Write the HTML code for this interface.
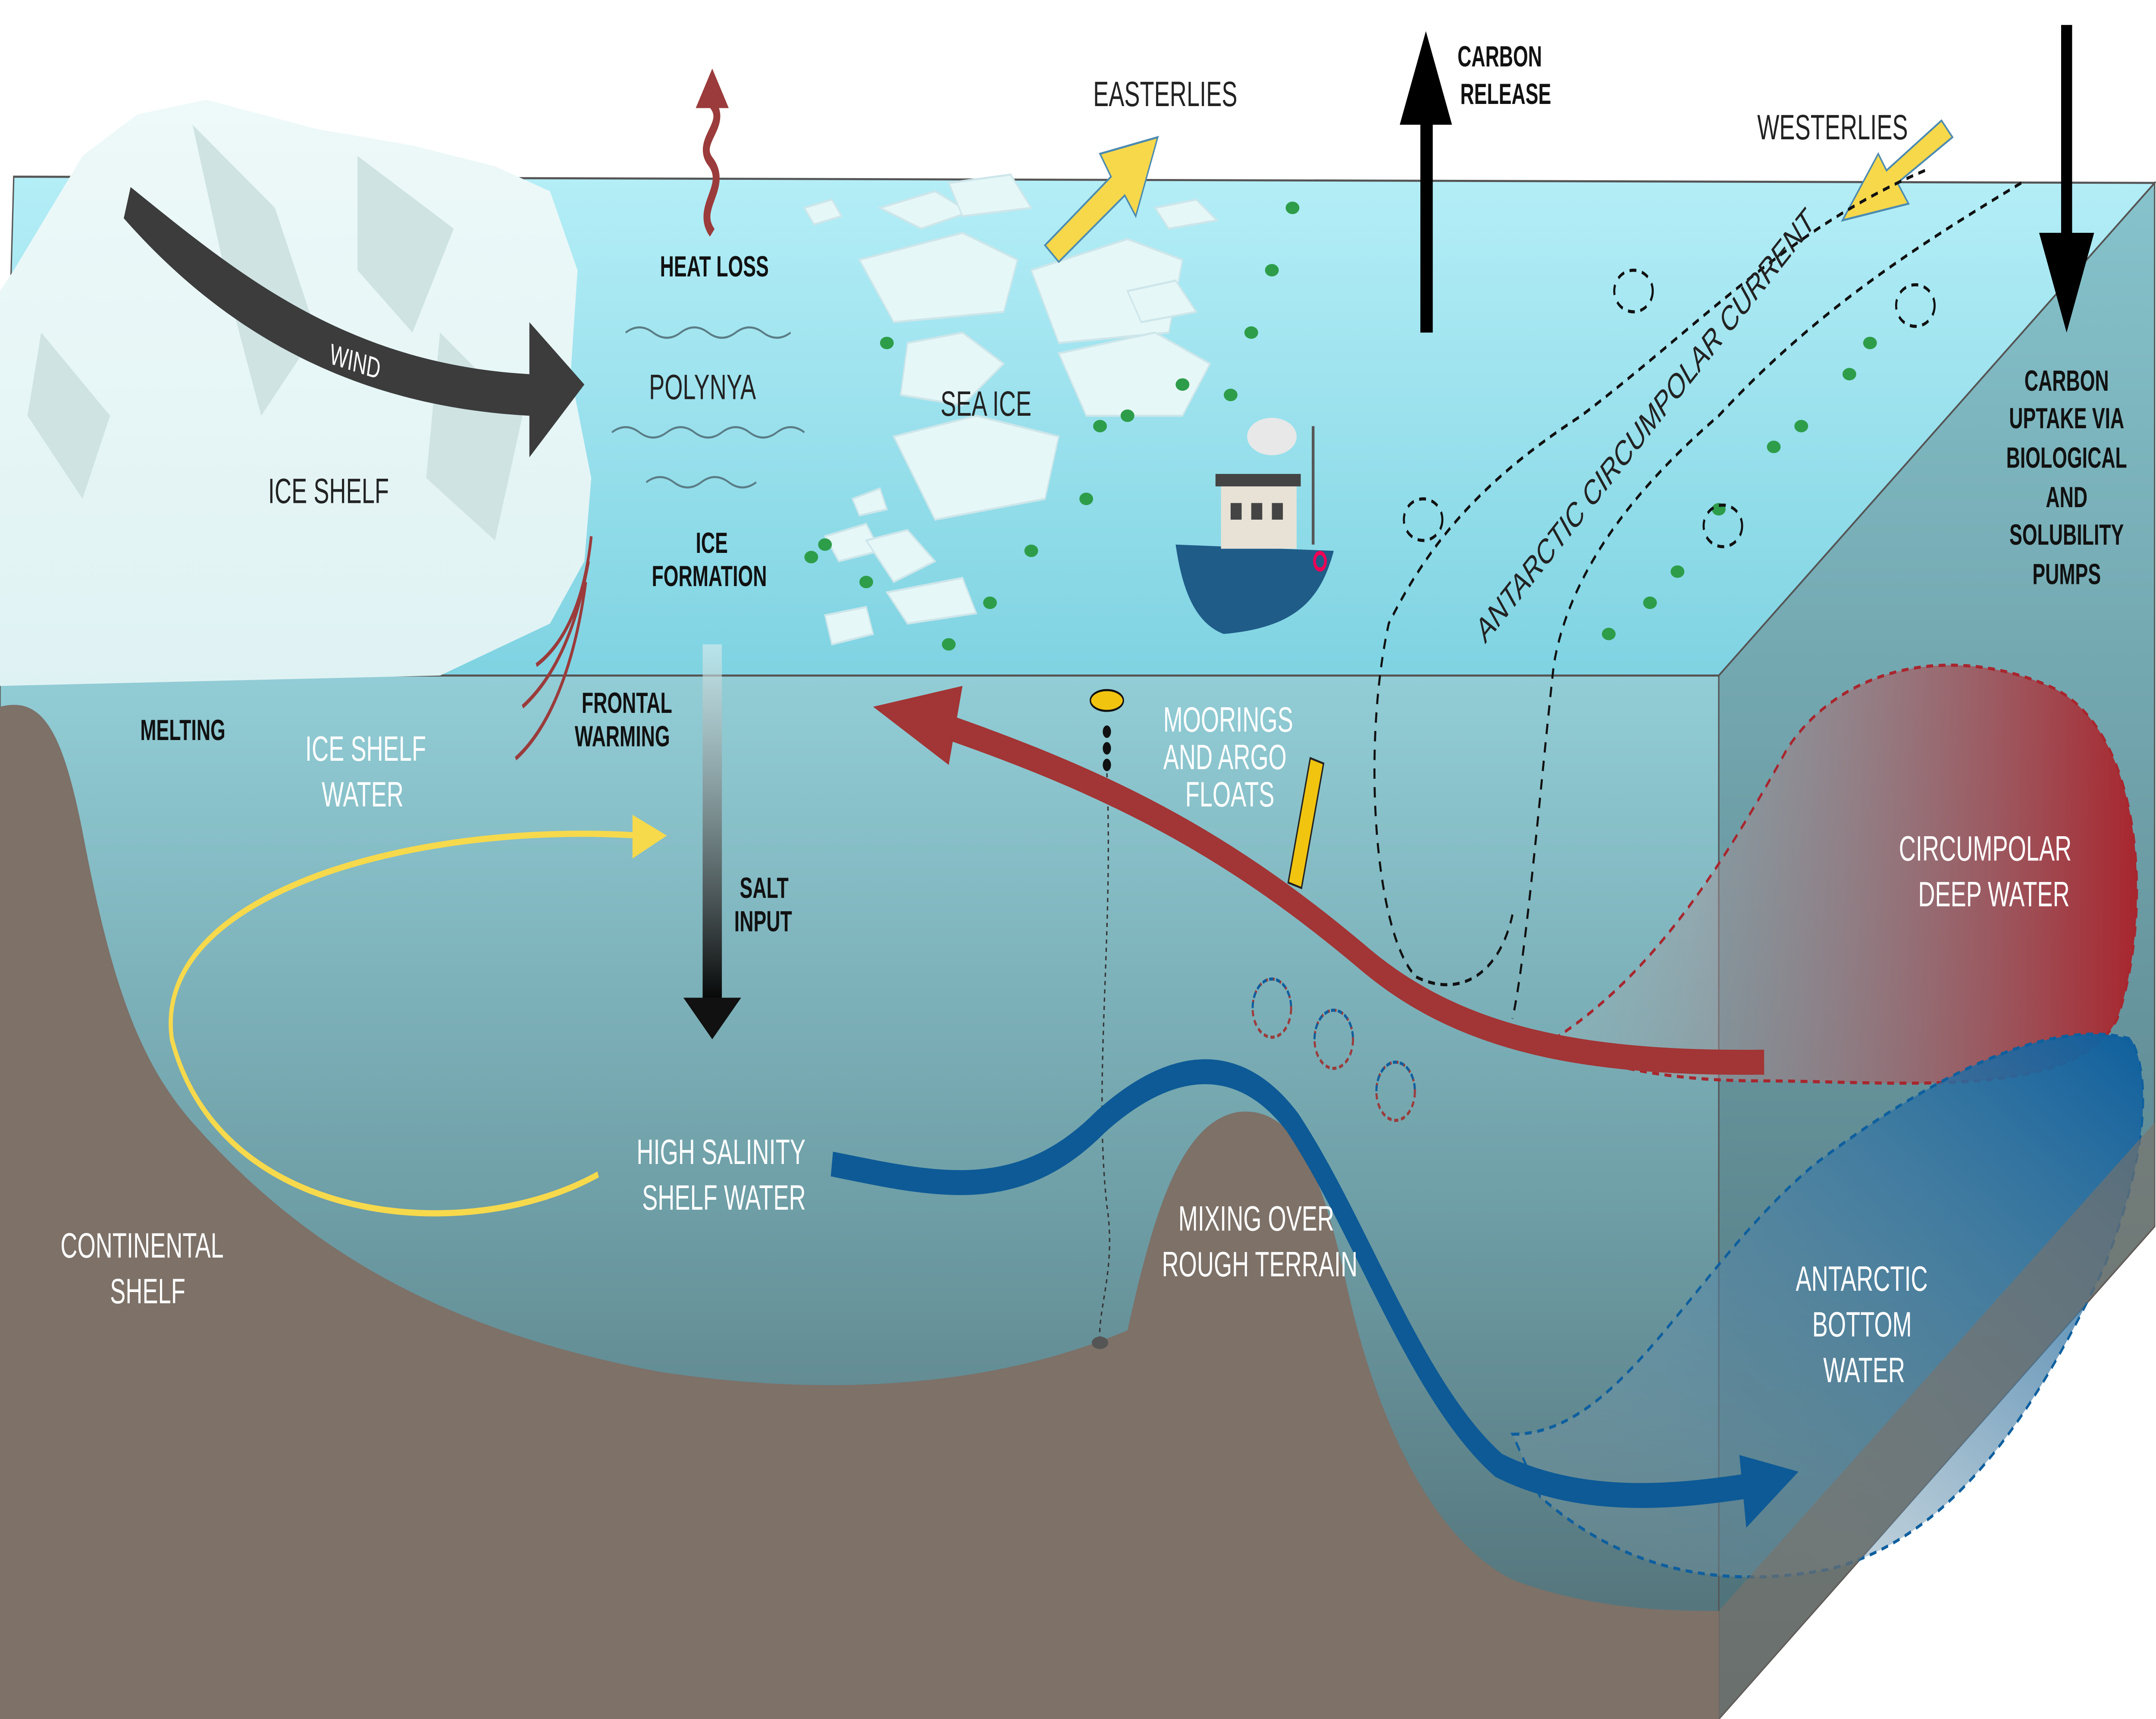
<!DOCTYPE html>
<html><head><meta charset="utf-8"><style>
html,body{margin:0;padding:0;background:#fff;width:100%;height:100%;overflow:hidden;}
svg{display:block;width:100vw;height:100vh;position:absolute;left:0;top:0;}
text{font-family:"Liberation Sans",sans-serif;}
.l{fill:#fff;font-size:17px;}
.b{font-weight:bold;font-size:14px;fill:#111;}
.d{fill:#222;font-size:17px;}
</style></head><body>
<svg viewBox="0 0 1568 827" preserveAspectRatio="none" xmlns="http://www.w3.org/2000/svg">
<defs>
<linearGradient id="surf" x1="0" y1="0" x2="0" y2="1"><stop offset="0" stop-color="#b4eef7"/><stop offset="1" stop-color="#7fd3e2"/></linearGradient>
<linearGradient id="water" x1="0" y1="0" x2="0" y2="1"><stop offset="0" stop-color="#92cdd6"/><stop offset="0.5" stop-color="#6f9fa7"/><stop offset="1" stop-color="#4f6b72"/></linearGradient>
<linearGradient id="side" x1="0" y1="0" x2="0" y2="1"><stop offset="0" stop-color="#86c3cc"/><stop offset="1" stop-color="#4c6d75"/></linearGradient>
<linearGradient id="cdw" x1="0" y1="0" x2="1" y2="0"><stop offset="0" stop-color="#9fb9bd" stop-opacity="0.3"/><stop offset="1" stop-color="#a8262e"/></linearGradient>
<linearGradient id="aabw" x1="0" y1="1" x2="1" y2="0"><stop offset="0" stop-color="#8fa8b0" stop-opacity="0.2"/><stop offset="1" stop-color="#0e5f9e"/></linearGradient>
<linearGradient id="salt" x1="0" y1="0" x2="0" y2="1"><stop offset="0" stop-color="#ddeef0" stop-opacity="0.6"/><stop offset="1" stop-color="#000"/></linearGradient>
<linearGradient id="ice" x1="0" y1="0" x2="0" y2="1"><stop offset="0" stop-color="#eef9f9"/><stop offset="1" stop-color="#dff2f3"/></linearGradient>
</defs>
<rect width="1568" height="827" fill="#fff"/>
<polygon points="1250,325 1567,88 1567,590 1250,827" fill="url(#side)" stroke="#555" stroke-width="1"/>
<polygon points="10,85 1567,88 1250,325 0,325" fill="url(#surf)" stroke="#555" stroke-width="1"/>
<rect x="0" y="325" width="1250" height="501" fill="url(#water)" stroke="#555" stroke-width="1"/>
<path d="M1130,500 C1200,470 1250,420 1300,360 C1340,320 1420,310 1490,330 C1560,350 1566,440 1540,490 C1510,530 1380,520 1280,520 C1200,520 1150,510 1130,500Z" fill="url(#cdw)" stroke="#a8262e" stroke-width="1.5" stroke-dasharray="5,4"/>
<path d="M1100,690 C1180,690 1230,610 1320,560 C1420,510 1500,490 1550,500 C1566,520 1560,560 1530,610 C1480,680 1420,740 1330,755 C1250,765 1180,755 1120,720Z" fill="url(#aabw)" stroke="#0e5f9e" stroke-width="1.5" stroke-dasharray="5,4"/>
<path d="M0,340 C30,335 45,350 60,400 C80,470 100,510 140,540 C220,600 320,640 480,660 C600,672 720,668 820,640 C840,580 860,540 900,535 C940,532 960,560 980,620 C1000,680 1040,740 1100,760 C1160,775 1220,775 1250,775 L1250,827 L0,827Z" fill="#7d7168"/>
<polygon points="1250,775 1567,540 1567,590 1250,827" fill="#7d7168" opacity="0.6"/>
<path d="M10,130 L60,75 L100,55 L150,48 L230,62 L300,70 L360,80 L400,92 L420,130 L415,180 L430,230 L425,270 L400,300 L320,325 L0,330 L0,140Z" fill="url(#ice)"/>
<path d="M140,60 L200,100 L230,160 L190,200 L170,150Z M260,75 L330,110 L300,160 L260,130Z M30,160 L80,200 L60,240 L20,200Z M320,160 L380,200 L360,260 L310,230Z" fill="#cfe3e3"/>
<path d="M95,90 C170,130 250,175 385,180 L385,155 L425,185 L385,220 L385,200 C240,195 150,150 90,105Z" fill="#3c3c3c"/>
<text x="240" y="178" fill="#fff" font-size="14" transform="rotate(12 255 172)">WIND</text>
<text x="195" y="242" class="d">ICE SHELF</text>
<text x="102" y="356" class="b">MELTING</text>
<text x="222" y="366" class="l">ICE SHELF</text><text x="234" y="388" class="l">WATER</text>
<path d="M518,112 C505,100 530,90 517,78 C505,68 530,60 518,50" fill="none" stroke="#9b3b3b" stroke-width="5"/>
<polygon points="506,52 518,33 530,52" fill="#9b3b3b"/>
<text x="480" y="133" class="b">HEAT LOSS</text>
<text x="472" y="192" class="d" font-size="19">POLYNYA</text>
<path d="M455,160 q10,-5 20,0 t20,0 t20,0 t20,0 t20,0 t20,0 M445,208 q10,-5 20,0 t20,0 t20,0 t20,0 t20,0 t20,0 t20,0 M470,232 q10,-5 20,0 t20,0 t20,0 t20,0" fill="none" stroke="#5a7d86" stroke-width="1"/>
<text x="506" y="266" class="b">ICE</text><text x="474" y="282" class="b">FORMATION</text>
<path d="M430,258 C425,290 410,310 390,320 M428,270 C420,300 405,325 380,340 M426,280 C418,320 400,350 375,365" fill="none" stroke="#9b3b3b" stroke-width="2"/>
<text x="423" y="343" class="b">FRONTAL</text><text x="418" y="359" class="b">WARMING</text>
<rect x="511" y="310" width="14" height="175" fill="url(#salt)"/>
<polygon points="497,480 539,480 518,500" fill="#111"/>
<text x="538" y="432" class="b">SALT</text><text x="534" y="448" class="b">INPUT</text>
<g fill="#e6f7f8" stroke="#cde6ea" stroke-width="1">
<polygon points="625,125 700,112 740,125 730,150 650,155"/>
<polygon points="640,100 680,92 705,102 670,110"/>
<polygon points="585,100 605,96 612,104 592,108"/>
<polygon points="690,88 735,84 750,100 700,104"/>
<polygon points="750,130 820,115 860,125 850,160 770,165"/>
<polygon points="660,165 700,160 730,175 700,195 655,190"/>
<polygon points="770,170 840,160 880,175 860,200 790,200"/>
<polygon points="650,210 710,200 770,210 760,240 680,250"/>
<polygon points="620,240 640,235 645,245 625,248"/>
<polygon points="600,258 630,252 640,265 610,270"/>
<polygon points="630,260 660,255 680,270 650,280"/>
<polygon points="645,285 700,278 710,295 660,300"/>
<polygon points="600,296 630,292 635,305 605,310"/>
<polygon points="840,100 870,96 885,106 850,110"/>
<polygon points="820,140 855,135 870,150 830,155"/>
</g>
<text x="684" y="200" class="d" font-size="19">SEA ICE</text>
<g fill="#2e9d4a">
<ellipse cx="645" cy="165" rx="5" ry="3"/><ellipse cx="600" cy="262" rx="5" ry="3"/><ellipse cx="590" cy="268" rx="5" ry="3"/>
<ellipse cx="800" cy="205" rx="5" ry="3"/><ellipse cx="820" cy="200" rx="5" ry="3"/><ellipse cx="860" cy="185" rx="5" ry="3"/>
<ellipse cx="895" cy="190" rx="5" ry="3"/><ellipse cx="910" cy="160" rx="5" ry="3"/><ellipse cx="925" cy="130" rx="5" ry="3"/>
<ellipse cx="940" cy="100" rx="5" ry="3"/><ellipse cx="790" cy="240" rx="5" ry="3"/><ellipse cx="750" cy="265" rx="5" ry="3"/>
<ellipse cx="720" cy="290" rx="5" ry="3"/><ellipse cx="690" cy="310" rx="5" ry="3"/><ellipse cx="630" cy="280" rx="5" ry="3"/>
<ellipse cx="1170" cy="305" rx="5" ry="3"/><ellipse cx="1200" cy="290" rx="5" ry="3"/><ellipse cx="1220" cy="275" rx="5" ry="3"/>
<ellipse cx="1290" cy="215" rx="5" ry="3"/><ellipse cx="1310" cy="205" rx="5" ry="3"/><ellipse cx="1345" cy="180" rx="5" ry="3"/>
<ellipse cx="1360" cy="165" rx="5" ry="3"/><ellipse cx="1250" cy="245" rx="5" ry="3"/>
</g>
<polygon points="760,118 808,85 800,74 842,66 826,104 818,94 770,126" fill="#f6d84a" stroke="#4d8bb0" stroke-width="1"/>
<text x="795" y="51" class="d" font-size="16">EASTERLIES</text>
<polygon points="1420,66 1380,88 1388,98 1340,106 1366,74 1372,82 1412,58" fill="#f6d84a" stroke="#4d8bb0" stroke-width="1"/>
<text x="1278" y="67" class="d" font-size="16">WESTERLIES</text>
<rect x="1033" y="50" width="9" height="110" fill="#000"/>
<polygon points="1018,60 1037,15 1056,60" fill="#000"/>
<text x="1060" y="32" class="b">CARBON</text><text x="1062" y="50" class="b">RELEASE</text>
<rect x="1499" y="12" width="8" height="110" fill="#000"/>
<polygon points="1483,112 1503,160 1523,112" fill="#000"/>
<g text-anchor="middle"><text x="1503" y="188" class="b">CARBON</text><text x="1503" y="206" class="b">UPTAKE VIA</text><text x="1503" y="225" class="b">BIOLOGICAL</text><text x="1503" y="244" class="b">AND</text><text x="1503" y="262" class="b">SOLUBILITY</text><text x="1503" y="281" class="b">PUMPS</text></g>
<g fill="none" stroke="#111" stroke-width="1.5" stroke-dasharray="5,4">
<path d="M1400,82 C1300,110 1230,160 1150,200 C1080,230 1040,260 1010,300 C990,360 1000,450 1030,470 C1060,480 1090,470 1100,440"/>
<path d="M1470,88 C1390,120 1320,150 1250,200 C1180,240 1140,280 1130,320 C1120,380 1110,460 1100,490"/>
<ellipse cx="1188" cy="140" rx="14" ry="10"/><ellipse cx="1035" cy="250" rx="14" ry="10"/><ellipse cx="1253" cy="253" rx="14" ry="10"/><ellipse cx="1393" cy="147" rx="14" ry="10"/>
</g>
<text x="1080" y="310" class="d" font-size="15" transform="rotate(-40 1080 310)">ANTARCTIC CIRCUMPOLAR CURRENT</text>
<path d="M855,262 L970,265 C960,290 940,302 890,305 C870,300 860,285 855,262Z" fill="#1f5c88"/>
<rect x="888" y="232" width="55" height="32" fill="#e8e2d6"/>
<rect x="884" y="228" width="62" height="6" fill="#444"/>
<rect x="895" y="242" width="8" height="8" fill="#444"/><rect x="910" y="242" width="8" height="8" fill="#444"/><rect x="925" y="242" width="8" height="8" fill="#444"/>
<line x1="955" y1="205" x2="955" y2="262" stroke="#555" stroke-width="2"/>
<ellipse cx="925" cy="210" rx="18" ry="9" fill="#e8e8e8"/>
<circle cx="960" cy="270" r="4" fill="none" stroke="#e05" stroke-width="2"/>
<ellipse cx="805" cy="337" rx="12" ry="5" fill="#f1c40f" stroke="#111"/>
<circle cx="805" cy="352" r="3" fill="#111"/><circle cx="805" cy="360" r="3" fill="#111"/><circle cx="805" cy="368" r="3" fill="#111"/>
<path d="M805,372 C810,450 795,520 805,580 C812,610 798,630 800,645" fill="none" stroke="#333" stroke-width="1" stroke-dasharray="2,2"/>
<ellipse cx="800" cy="646" rx="6" ry="3" fill="#555"/>
<text x="846" y="352" class="l" font-size="15">MOORINGS</text><text x="846" y="370" class="l" font-size="15">AND ARGO</text><text x="862" y="388" class="l" font-size="15">FLOATS</text>
<rect x="945" y="365" width="10" height="62" fill="#f1c40f" stroke="#222" transform="rotate(15 950 395)"/>
<g fill="none" stroke-width="1.5" stroke-dasharray="3,2">
<circle cx="925" cy="485" r="14" stroke="#9b3b3b"/><circle cx="970" cy="500" r="14" stroke="#9b3b3b"/><circle cx="1015" cy="525" r="14" stroke="#9b3b3b"/>
<path d="M911,485 a14,14 0 0 1 28,0" stroke="#0e5f9e"/><path d="M956,500 a14,14 0 0 1 28,0" stroke="#0e5f9e"/><path d="M1001,525 a14,14 0 0 1 28,0" stroke="#0e5f9e"/>
</g>
<path d="M1283,511 C1150,512 1060,500 990,460 C900,410 820,380 690,350" fill="none" stroke="#a23535" stroke-width="12"/>
<polygon points="700,330 635,340 690,368" fill="#a23535"/>
<text x="1381" y="414" class="l">CIRCUMPOLAR</text><text x="1395" y="436" class="l">DEEP WATER</text>
<path d="M605,560 C680,570 740,580 800,540 C850,510 900,505 940,540 C990,590 1030,670 1090,705 C1150,725 1220,720 1270,715" fill="none" stroke="#0d5a96" stroke-width="12"/>
<polygon points="1265,700 1308,708 1270,735" fill="#0d5a96"/>
<text x="463" y="560" class="l">HIGH SALINITY</text><text x="467" y="582" class="l">SHELF WATER</text>
<path d="M435,565 C340,600 160,590 125,500 C110,430 300,395 465,402" fill="none" stroke="#f7d94c" stroke-width="3"/>
<polygon points="460,392 485,402 460,413" fill="#f7d94c"/>
<text x="44" y="605" class="l">CONTINENTAL</text><text x="80" y="627" class="l">SHELF</text>
<text x="857" y="592" class="l">MIXING OVER</text><text x="845" y="614" class="l">ROUGH TERRAIN</text>
<text x="1306" y="621" class="l">ANTARCTIC</text><text x="1318" y="643" class="l">BOTTOM</text><text x="1326" y="665" class="l">WATER</text>
</svg>
</body></html>
